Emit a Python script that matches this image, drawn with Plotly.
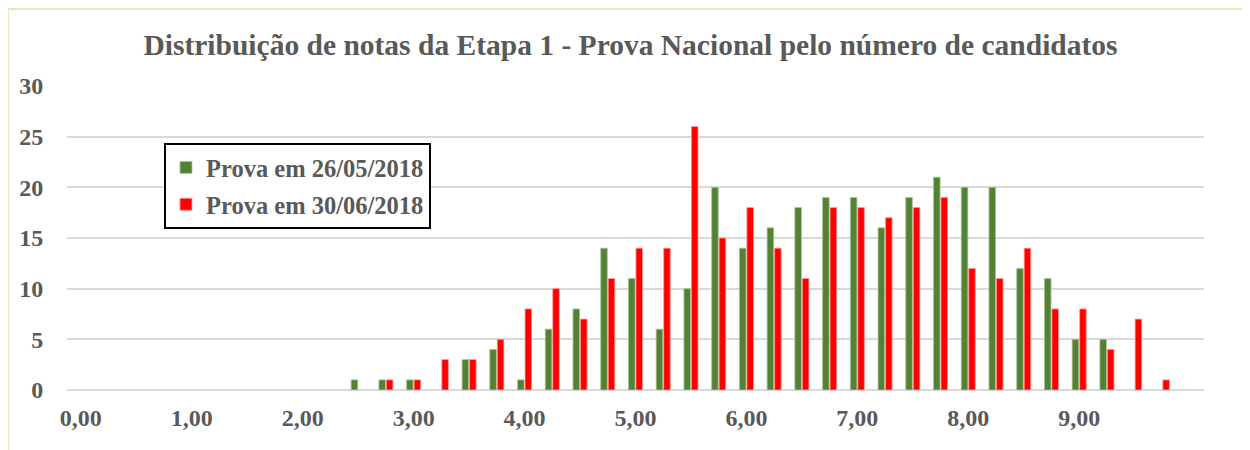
import plotly.graph_objects as go

# Score categories 0.00 .. 10.00 in steps of 0.25
notas = [i * 0.25 for i in range(41)]
prova_26_05 = [0, 0, 0, 0, 0, 0, 0, 0, 0, 0,
               1, 1, 1, 0, 3, 4, 1, 6, 8, 14,
               11, 6, 10, 20, 14, 16, 18, 19, 19, 16,
               19, 21, 20, 20, 12, 11, 5, 5, 0, 0, 0]
prova_30_06 = [0, 0, 0, 0, 0, 0, 0, 0, 0, 0,
               0, 1, 1, 3, 3, 5, 8, 10, 7, 11,
               14, 14, 26, 15, 18, 14, 11, 18, 18, 17,
               18, 19, 12, 11, 14, 8, 8, 4, 7, 1, 0]
serie_nomes = ["Prova em 26/05/2018", "Prova em 30/06/2018"]
tick_vals = [0, 1, 2, 3, 4, 5, 6, 7, 8, 9]
tick_text = ["0,00", "1,00", "2,00", "3,00", "4,00", "5,00", "6,00", "7,00", "8,00", "9,00"]
titulo = "Distribuição de notas da Etapa 1 - Prova Nacional pelo número de candidatos"

FONT = "Liberation Serif, Times New Roman, serif"
GRAY = "#595959"


def sem_zeros(vals):
    return [v if v else None for v in vals]


fig = go.Figure()
fig.add_trace(go.Bar(
    x=notas, y=sem_zeros(prova_26_05), name=serie_nomes[0], legendgroup="a",
    marker=dict(color="#548235", line=dict(color="#a9c49a", width=0.8)),
))
fig.add_trace(go.Bar(
    x=notas, y=sem_zeros(prova_30_06), name=serie_nomes[1], legendgroup="b",
    marker=dict(color="#FF0000", line=dict(color="#ff9999", width=0.8)),
))

fig.update_layout(
    width=1250, height=450,
    margin=dict(l=59, r=54, t=78, b=68, autoexpand=False),
    paper_bgcolor="white", plot_bgcolor="white",
    barmode="group", bargap=0.46, bargroupgap=0.12,
    title=dict(text="<b>" + titulo + "</b>", x=0.498, xanchor="center",
               y=0.918, yanchor="middle", automargin=False,
               font=dict(family=FONT, size=29.5, color=GRAY)),
    font=dict(family=FONT, color=GRAY),
    showlegend=True,
    legend=dict(x=0.0853, y=0.8125, xanchor="left", yanchor="top",
                bgcolor="white", bordercolor="black", borderwidth=2,
                traceorder="grouped", tracegroupgap=2,
                font=dict(family=FONT, size=24.5, color=GRAY, weight="bold")),
    xaxis=dict(range=[-0.125, 10.125], tickmode="array",
               tickvals=tick_vals, ticktext=tick_text, automargin=False,
               showgrid=False, zeroline=False, showline=False,
               ticks="outside", ticklen=6, tickcolor="rgba(0,0,0,0)",
               tickfont=dict(family=FONT, size=24, color=GRAY, weight="bold")),
    yaxis=dict(range=[0, 30], tickvals=[0, 5, 10, 15, 20, 25, 30],
               automargin=False,
               showgrid=True, gridcolor="#d9d9d9", gridwidth=1.5,
               zeroline=True, zerolinecolor="#d9d9d9", zerolinewidth=1.5,
               showline=False,
               ticks="outside", ticklen=18, tickcolor="rgba(0,0,0,0)",
               tickfont=dict(family=FONT, size=24, color=GRAY, weight="bold")),
    shapes=[
        dict(type="line", xref="paper", yref="paper",
             x0=-0.0519, x1=1.2, y0=1.253, y1=1.253,
             line=dict(color="#e3e29c", width=1.5)),
        dict(type="line", xref="paper", yref="paper",
             x0=-0.0519, x1=-0.0519, y0=1.253, y1=-0.5,
             line=dict(color="#e3e29c", width=1.5)),
    ],
)

fig.write_html("out.html")
